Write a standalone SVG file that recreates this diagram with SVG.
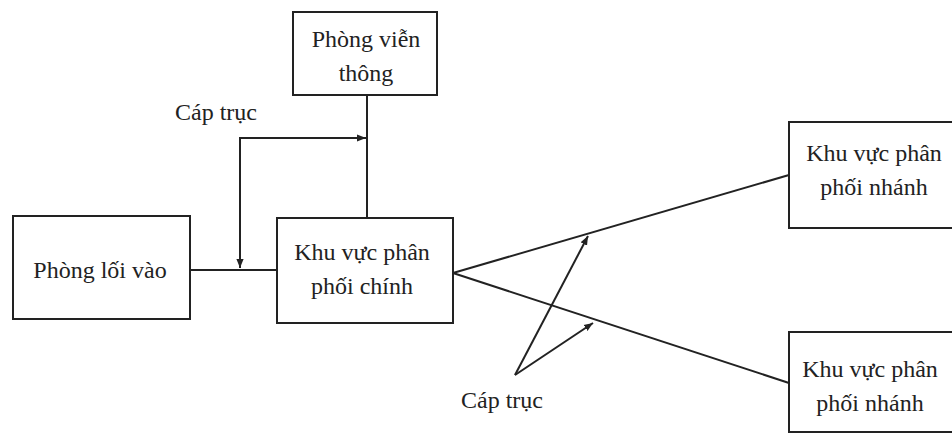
<svg xmlns="http://www.w3.org/2000/svg" width="952" height="434" viewBox="0 0 952 434">
<style>
.box{fill:#fff;stroke:#222;stroke-width:2}
.ln{fill:none;stroke:#222;stroke-width:2}
.t{font-family:"Liberation Serif","DejaVu Serif",serif;font-size:24px;fill:#222;text-anchor:middle}
</style>
<defs>
<marker id="ah" viewBox="0 0 10 10" refX="10" refY="5" markerWidth="9" markerHeight="9" markerUnits="userSpaceOnUse" orient="auto">
<path d="M0,1 L10,5 L0,9 Z" fill="#222"/>
</marker>
</defs>
<rect width="952" height="434" fill="#fff"/>
<g id="connectors">
<line class="ln" x1="367" y1="95" x2="367" y2="218"/>
<line class="ln" x1="190" y1="270" x2="277" y2="270"/>
<path class="ln" d="M240,268 V138 H366" marker-end="url(#ah)"/>
<path class="ln" d="M240,138 V268" marker-end="url(#ah)"/>
<line class="ln" x1="453" y1="273" x2="789" y2="175"/>
<line class="ln" x1="453" y1="273" x2="789" y2="383"/>
<line class="ln" x1="515" y1="375" x2="588" y2="236" marker-end="url(#ah)"/>
<line class="ln" x1="515" y1="375" x2="593" y2="323" marker-end="url(#ah)"/>
<text class="t" x="216" y="120" font-size="21">Cáp trục</text>
<text class="t" x="502" y="408" font-size="21">Cáp trục</text>
</g>
<g id="telecom">
<rect class="box" x="293" y="12" width="144" height="83"/>
<text class="t" x="366" y="47">Phòng viễn</text>
<text class="t" x="366" y="81">thông</text>
</g>
<g id="entrance">
<rect class="box" x="13" y="216" width="177" height="103"/>
<text class="t" x="100" y="278">Phòng lối vào</text>
</g>
<g id="main">
<rect class="box" x="277" y="218" width="176" height="105"/>
<text class="t" x="362" y="260">Khu vực phân</text>
<text class="t" x="362" y="294">phối chính</text>
</g>
<g id="branch1">
<rect class="box" x="789" y="122" width="175" height="106"/>
<text class="t" x="874" y="161">Khu vực phân</text>
<text class="t" x="874" y="195">phối nhánh</text>
</g>
<g id="branch2">
<rect class="box" x="789" y="332" width="175" height="100"/>
<text class="t" x="870" y="377">Khu vực phân</text>
<text class="t" x="870" y="411">phối nhánh</text>
</g>
</svg>
